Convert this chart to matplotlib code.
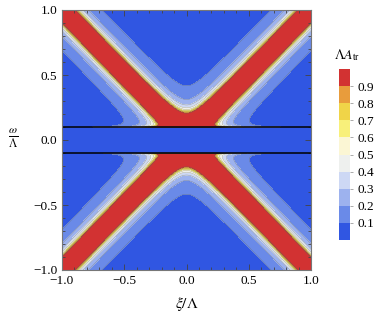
import numpy as np
import matplotlib
matplotlib.use("Agg")
import matplotlib.pyplot as plt
from matplotlib.ticker import MultipleLocator

plt.rcParams['font.family'] = ['Liberation Serif', 'DejaVu Serif']
plt.rcParams['mathtext.fontset'] = 'stix'

# --- values ---
gap = 0.1            # half width of the blue strip around omega = 0 (black lines)
core_width = 0.10    # red band half width (vertical distance to the branch)
tail_amp = 0.59      # light-blue tail of the bands
tail_width = 0.14
edge_damp = 0.025    # limits the rise right at the gap edges
levels = [0.0, 0.1, 0.2, 0.3, 0.4, 0.5, 0.6, 0.7, 0.8, 0.9, 1.0]
tick_levels = [0.1, 0.2, 0.3, 0.4, 0.5, 0.6, 0.7, 0.8, 0.9]
band_colors = ['#3056e2', '#6a8ae8', '#9db2ee', '#cdd8f4', '#eef0ee',
               '#fbf6d4', '#f8f07a', '#f0d448', '#e89c3c', '#d23232']
axis_ticks = [-1.0, -0.5, 0.0, 0.5, 1.0]

# grid on the xi / omega plane
xi = np.linspace(-1, 1, 801)
om = np.linspace(-1, 1, 801)
XI, OM = np.meshgrid(xi, om)

branch = np.sqrt(XI**2 + gap**2)
d = np.abs(OM) - branch
g = 1 / (1 + (d / core_width)**6) + tail_amp / (1 + (d / tail_width)**2)
dos = np.abs(OM) / np.sqrt(np.clip(OM**2 - gap**2, 0, None) + edge_damp**2)
A = g * dos
A[np.abs(OM) < gap] = 0.0
A = np.clip(A, 0, 0.999)

fig = plt.figure(figsize=(3.74, 3.15), dpi=100)
ax = fig.add_axes([62/374, 1 - 270/315, 249/374, 260/315])

cf = ax.contourf(XI, OM, A, levels=levels, colors=band_colors)
ax.contour(XI, OM, A, levels=tick_levels, colors='#666655', linewidths=0.3, alpha=0.6)
ax.axhline(gap, color='k', lw=1.1)
ax.axhline(-gap, color='k', lw=1.1)

ax.set_xlim(-1, 1)
ax.set_ylim(-1, 1)
ax.set_xticks(axis_ticks)
ax.set_yticks(axis_ticks)
ax.xaxis.set_minor_locator(MultipleLocator(0.1))
ax.yaxis.set_minor_locator(MultipleLocator(0.1))
ax.tick_params(which='both', direction='in', top=True, right=True,
               color='#444444', labelsize=9.5, width=0.6)
ax.tick_params(which='major', length=4)
ax.tick_params(which='minor', length=2.5)
for s in ax.spines.values():
    s.set_color('#777777')
    s.set_linewidth(0.8)

ax.set_xlabel(r'$\xi/\Lambda$', fontsize=11, labelpad=6)
fig.text(13/374, 1 - 138/315, r'$\frac{\omega}{\Lambda}$', fontsize=12,
         ha='center', va='center')

# colour key
cax = fig.add_axes([339/374, 1 - 240/315, 11/374, 171/315])
cb = fig.colorbar(cf, cax=cax, ticks=tick_levels)
cb.outline.set_visible(False)
cax.tick_params(labelsize=9.5, length=2, width=0.5, color='#888888')
fig.text(347/374, 1 - 55/315, r'$\Lambda A_{\rm tr}$', fontsize=10,
         ha='center', va='center')

fig.savefig('out.png', dpi=100)
